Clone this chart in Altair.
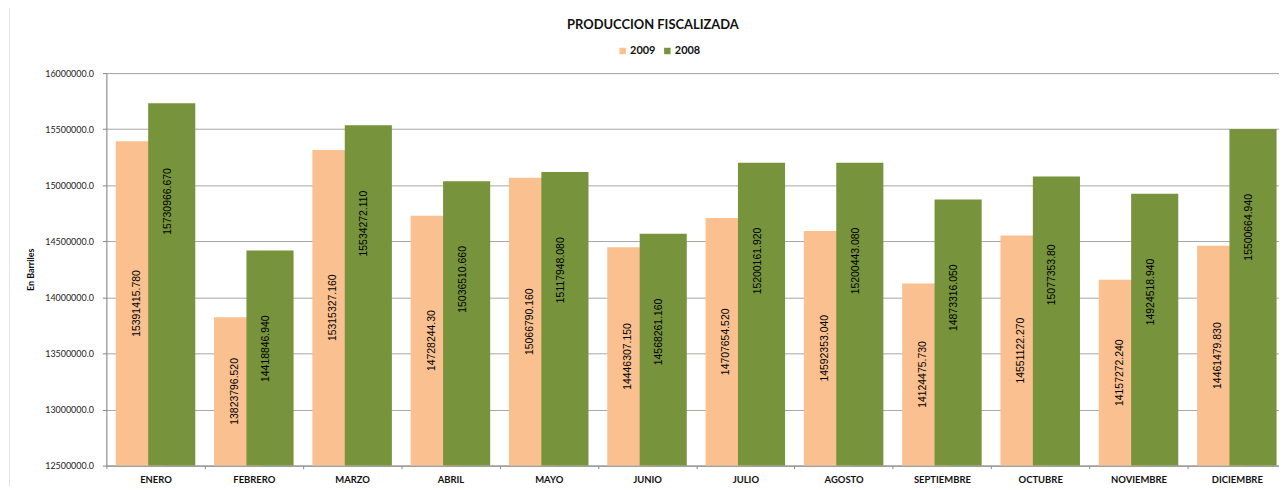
import altair as alt
import pandas as pd

months = ["ENERO", "FEBRERO", "MARZO", "ABRIL", "MAYO", "JUNIO", "JULIO",
          "AGOSTO", "SEPTIEMBRE", "OCTUBRE", "NOVIEMBRE", "DICIEMBRE"]
series = ["2009", "2008"]
colors = ["#FAC090", "#77933C"]

v2009 = [15391415.780, 13823796.520, 15315327.160, 14728244.30, 15066790.160,
         14446307.150, 14707654.520, 14592353.040, 14124475.730, 14551122.270,
         14157272.240, 14461479.830]
v2008 = [15730966.670, 14418846.940, 15534272.110, 15036510.660, 15117948.080,
         14568261.160, 15200161.920, 15200443.080, 14873316.050, 15077353.80,
         14924518.940, 15500664.940]
lab2009 = ["15391415.780", "13823796.520", "15315327.160", "14728244.30", "15066790.160",
           "14446307.150", "14707654.520", "14592353.040", "14124475.730", "14551122.270",
           "14157272.240", "14461479.830"]
lab2008 = ["15730966.670", "14418846.940", "15534272.110", "15036510.660", "15117948.080",
           "14568261.160", "15200161.920", "15200443.080", "14873316.050", "15077353.80",
           "14924518.940", "15500664.940"]

title_text = "PRODUCCION  FISCALIZADA"
y_min, y_max, y_step = 12500000, 16000000, 500000
y_ticks = list(range(y_min, y_max + 1, y_step))

rows = []
for m, a, b, la, lb in zip(months, v2009, v2008, lab2009, lab2008):
    rows.append({"month": m, "serie": "2009", "value": a, "label": la})
    rows.append({"month": m, "serie": "2008", "value": b, "label": lb})
df = pd.DataFrame(rows)

PLOT_W = 1180
FONT = "Lato"

x_enc = alt.X(
    "month:N", sort=months,
    scale=alt.Scale(paddingInner=0, paddingOuter=0, range=[0, 1187]),
    axis=alt.Axis(title=None, labelAngle=0, tickBand="extent", tickSize=3,
                  labelFont=FONT, labelFontWeight="bold", labelFontSize=9.5,
                  labelColor="#111", labelPadding=6,
                  domainColor="#888", tickColor="#888", grid=False),
)
y_scale = alt.Scale(domain=[y_min, y_max], nice=False, zero=False)
y_axis = alt.Axis(values=y_ticks, format=".1f", title="En Barriles",
                  titleFont=FONT, titleFontSize=9, titleFontWeight="bold",
                  titleColor="#111", titlePadding=9,
                  labelFont=FONT, labelFontSize=9, labelColor="#222",
                  labelPadding=9, tickSize=4, tickColor="#888",
                  domainColor="#888", gridColor="#a6a6a6", grid=True)

color_enc = alt.Color(
    "serie:N",
    scale=alt.Scale(domain=series, range=colors),
    legend=alt.Legend(title=None, orient="none", direction="horizontal",
                      legendX=514, legendY=-28, symbolType="square",
                      symbolSize=42, symbolStrokeWidth=0, labelFont=FONT,
                      labelFontWeight="bold", labelFontSize=11, labelColor="#111",
                      labelOffset=2, columnPadding=6, padding=0),
)

base = alt.Chart(df)

bar_o = base.transform_filter(alt.datum.serie == "2009").mark_bar(
    width=47.4, xOffset=-16.3).encode(
    x=x_enc, y=alt.Y("value:Q", scale=y_scale, axis=y_axis),
    y2=alt.datum(y_min), color=color_enc)
bar_g = base.transform_filter(alt.datum.serie == "2008").mark_bar(
    width=47.4, xOffset=16.3).encode(
    x=x_enc, y=alt.Y("value:Q", scale=y_scale, axis=y_axis),
    y2=alt.datum(y_min), color=color_enc)

txt_kw = dict(angle=270, align="center", baseline="middle", fontSize=10.5,
              font="Liberation Sans", color="#000")
txt_o = base.transform_filter(alt.datum.serie == "2009").transform_calculate(
    pos=f"(datum.value + {y_min}) / 2").mark_text(xOffset=-19, **txt_kw).encode(
    x=alt.X("month:N", sort=months), y=alt.Y("pos:Q", scale=y_scale), text="label:N")
txt_g = base.transform_filter(alt.datum.serie == "2008").transform_calculate(
    pos="datum.value - 876000").mark_text(xOffset=12.3, **txt_kw).encode(
    x=alt.X("month:N", sort=months), y=alt.Y("pos:Q", scale=y_scale), text="label:N")

one = alt.Chart(pd.DataFrame({"a": [0]}))
frame = one.mark_rect(fillOpacity=0, stroke="#e6e6df", strokeWidth=1).encode(
    x=alt.value(-97.5), x2=alt.value(1300), y=alt.value(-66.5), y2=alt.value(600))
title = one.mark_text(text=title_text, font=FONT, fontSize=13, fontWeight="bold",
                      color="#111", align="center", baseline="middle").encode(
    x=alt.value(550), y=alt.value(-48.5))

chart = alt.layer(frame, bar_o, bar_g, txt_o, txt_g, title).properties(
    width=PLOT_W, height=395,
    autosize=alt.AutoSizeParams(type="none"),
    padding={"left": 99, "top": 64, "right": 0, "bottom": 19},
).configure_view(stroke=None).configure(background="white")

chart.save("out.html", embed_options={"renderer": "svg", "actions": False})
